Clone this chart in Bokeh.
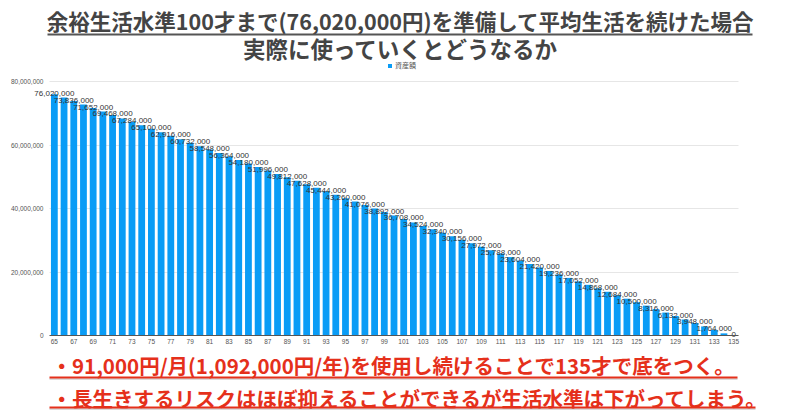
from bokeh.plotting import figure
from bokeh.models import (ColumnDataSource, Label, Arrow, Legend, LegendItem,
                          NumeralTickFormatter, FixedTicker, Range1d, LinearAxis, Grid)
from bokeh.core.properties import value
from bokeh.embed import file_html
from bokeh.resources import INLINE

# ---------------- data ----------------
ages = list(range(65, 136))
assets = [
    76020000, 74928000, 73836000, 72744000, 71652000, 70560000, 69468000, 68376000,
    67284000, 66192000, 65100000, 64008000, 62916000, 61824000, 60732000, 59640000,
    58548000, 57456000, 56364000, 55272000, 54180000, 53088000, 51996000, 50904000,
    49812000, 48720000, 47628000, 46536000, 45444000, 44352000, 43260000, 42168000,
    41076000, 39984000, 38892000, 37800000, 36708000, 35616000, 34524000, 33432000,
    32340000, 31248000, 30156000, 29064000, 27972000, 26880000, 25788000, 24696000,
    23604000, 22512000, 21420000, 20328000, 19236000, 18144000, 17052000, 15960000,
    14868000, 13776000, 12684000, 11592000, 10500000, 9408000, 8316000, 7224000,
    6132000, 5040000, 3948000, 2856000, 1764000, 672000, 0,
]
tick_ages = ages[::2]
label_ages = ages[::2]
label_values = assets[::2]
label_texts = [f"{v:,}" for v in label_values]
y_ticks = [0, 20000000, 40000000, 60000000, 80000000]

title1 = "余裕生活水準100才まで(76,020,000円)を準備して平均生活を続けた場合"
title2 = "実際に使っていくとどうなるか"
note1 = "・91,000円/月(1,092,000円/年)を使用し続けることで135才で底をつく。"
note2 = "・長生きするリスクはほぼ抑えることができるが生活水準は下がってしまう。"
legend_label = "資産額"

BAR = "#0a9cf6"
RED = "#e5301b"
GREY = "#444444"
JP = "Noto Sans CJK JP"
NUM = "Liberation Sans"

# ---------------- layout constants (pixels) ----------------
W, H = 800, 418
FRAME_L, FRAME_R = 49, 738          # x of plot area
ZERO_Y, TOP_Y = 335, 81             # y of 0 and of 80,000,000
X_LO, X_HI = ages[0] - 0.5, ages[-1] + 0.5
Y_TOP_VAL = y_ticks[-1]

px_x = (X_HI - X_LO) / (FRAME_R - FRAME_L)
px_y = Y_TOP_VAL / (ZERO_Y - TOP_Y)
x_range = Range1d(X_LO - FRAME_L * px_x, X_HI + (W - FRAME_R) * px_x)
y_range = Range1d(-(H - ZERO_Y) * px_y, ZERO_Y * px_y)

p = figure(width=W, height=H, output_backend="svg", toolbar_location=None,
           x_range=x_range, y_range=y_range,
           x_axis_location=None, y_axis_location=None,
           min_border=0, min_border_left=0, min_border_right=0,
           min_border_top=0, min_border_bottom=0)
p.grid.visible = False
p.outline_line_color = None
p.background_fill_color = "white"
p.border_fill_color = "white"

# ---------------- axes / grid ----------------
ygrid = Grid(dimension=1, ticker=FixedTicker(ticks=y_ticks), grid_line_color="#e6e6e6")
try:
    ygrid.cross_bounds = (X_LO, X_HI)
except Exception:
    pass
p.add_layout(ygrid)

xaxis = LinearAxis(ticker=FixedTicker(ticks=tick_ages), fixed_location=0, bounds=(X_LO, X_HI),
                   major_tick_line_color=None, minor_tick_line_color=None,
                   major_tick_out=0, major_tick_in=0, minor_tick_out=0, minor_tick_in=0,
                   axis_line_color="#555555", major_label_text_font=NUM,
                   major_label_text_font_size="6.5px", major_label_text_color="#555555",
                   major_label_standoff=3)
p.add_layout(xaxis, "below")

yaxis = LinearAxis(ticker=FixedTicker(ticks=y_ticks), fixed_location=X_LO, bounds=(0, Y_TOP_VAL),
                   formatter=NumeralTickFormatter(format="0,0"),
                   axis_line_color=None, major_tick_line_color=None, minor_tick_line_color=None,
                   major_tick_out=0, major_tick_in=0, minor_tick_out=0, minor_tick_in=0,
                   major_label_text_font=NUM, major_label_text_font_size="6.5px",
                   major_label_text_color="#555555", major_label_standoff=6)
p.add_layout(yaxis, "left")

# ---------------- bars and value labels ----------------
src = ColumnDataSource(dict(x=ages, y=assets))
bars = p.vbar(x="x", top="y", width=0.7, source=src, fill_color=BAR, line_color=None)

lsrc = ColumnDataSource(dict(x=label_ages, y=label_values, t=label_texts))
p.text(x="x", y="y", text="t", source=lsrc, text_align="center", text_baseline="alphabetic",
       y_offset=-1, text_font=value(NUM), text_font_size="8px", text_color="#333333")

legend = Legend(items=[LegendItem(label=legend_label, renderers=[bars])],
                location=(387, H - 70), orientation="horizontal",
                padding=0, margin=0, spacing=0, glyph_width=5, glyph_height=5,
                label_height=8, label_standoff=3, label_text_font=JP,
                label_text_font_size="7px", label_text_color="#555555",
                border_line_color=None, background_fill_alpha=0)
p.add_layout(legend, "center")


def hline(x0, x1, y, color, width, alpha=1.0):
    p.add_layout(Arrow(x_start=x0, y_start=H - y, x_end=x1, y_end=H - y, start_units="screen",
                       end_units="screen", start=None, end=None, line_color=color,
                       line_width=width, line_alpha=alpha))


def text(x, y, s, size, color, align="center"):
    p.add_layout(Label(x=x, y=H - y, x_units="screen", y_units="screen", text=s,
                       text_align=align, text_baseline="middle", text_font=JP,
                       text_font_size=size, text_font_style="bold", text_color=color))


# ---------------- titles ----------------
text(400, 20, title1, "21.5px", GREY)
hline(47, 752, 34, "#555555", 2)
text(400, 47, title2, "22.5px", GREY)

# ---------------- notes ----------------
text(51, 364, note1, "20.5px", RED, "left")
text(51, 397, note2, "20.5px", RED, "left")
for yy, xe in [(377, 737), (407, 755)]:
    hline(49, xe, yy + 1.5, "#bbbbbb", 1.5, 0.7)
    hline(49, xe, yy, RED, 2)

open("out.html", "w").write(file_html(p, INLINE))
